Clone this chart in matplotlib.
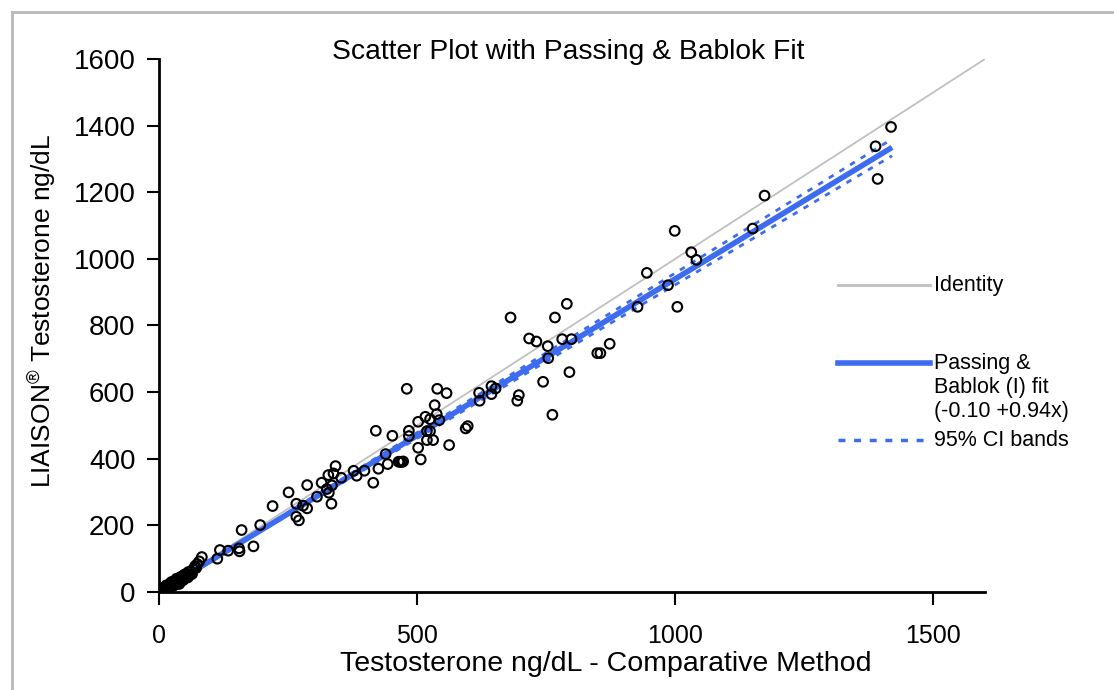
import matplotlib
matplotlib.use("Agg")
import matplotlib.pyplot as plt
from matplotlib.lines import Line2D
import numpy as np

plt.rcParams['font.family'] = ['Liberation Sans', 'DejaVu Sans']

# ---- data ----
comp_x = [
    1418, 1388, 1392, 1173, 1150, 999, 1031, 1041, 945, 986, 927, 1004, 873, 855,
    790, 681, 767, 717, 731, 753, 781, 799, 754, 849, 795, 744, 762,
    620, 621, 644, 652, 644, 697, 694, 480, 539, 557, 534, 502, 516, 525, 538, 543,
    484, 484, 519, 525, 519, 531, 502, 562, 507, 470, 473, 594, 598,
    420, 452, 439, 464, 467, 425, 443, 415, 398, 383, 377, 353, 342, 328, 338, 315,
    335, 325, 329, 306, 334, 287, 251, 220, 266, 279, 287, 266, 271, 196, 160,
    183, 118, 134, 155, 156, 113, 83,
    78, 74, 72, 70, 66, 64, 62, 60, 57, 56, 55, 52, 50, 49, 48, 46, 45, 44, 42, 41,
    40, 38, 37, 36, 35, 33, 32, 31, 30, 28, 27, 26, 25, 23, 22, 21, 20, 18, 17, 16,
    15, 13, 12, 11, 10, 9, 8, 7, 6, 5, 4, 3, 2, 14, 19, 24, 29, 34, 39, 47,
]
liaison_y = [
    1396, 1338, 1240, 1190, 1091, 1084, 1020, 997, 958, 921, 856, 856, 745, 717,
    865, 824, 824, 761, 752, 738, 759, 759, 702, 717, 660, 631, 532,
    598, 574, 618, 611, 594, 591, 574, 610, 610, 597, 561, 511, 526, 519, 534, 516,
    484, 468, 483, 483, 456, 456, 433, 441, 398, 390, 392, 491, 498,
    484, 469, 414, 391, 391, 370, 384, 328, 364, 349, 364, 343, 378, 351, 356, 328,
    320, 309, 298, 286, 265, 321, 299, 258, 265, 259, 251, 226, 215, 201, 186,
    137, 126, 124, 131, 122, 100, 105,
    92, 84, 72, 78, 68, 54, 62, 52, 60, 44, 50, 54, 42, 52, 38, 48, 36, 46, 30, 44,
    40, 30, 40, 28, 38, 26, 34, 24, 33, 20, 30, 18, 28, 16, 26, 14, 22, 12, 20, 10,
    18, 8, 15, 6, 12, 4, 10, 3, 8, 2, 6, 1, 3, 20, 12, 30, 20, 40, 24, 36,
]

identity_x = [0, 1600]
identity_y = [0, 1600]

pb_intercept = -0.10
pb_slope = 0.94
fit_x_range = [0, 1420]
ci_upper = (-0.5, 0.958)   # intercept, slope
ci_lower = (0.3, 0.922)

title = "Scatter Plot with Passing & Bablok Fit"
xlabel = "Testosterone ng/dL - Comparative Method"
ylabel = r"LIAISON$^{\mathregular{®}}$ Testosterone ng/dL"
xticks = [0, 500, 1000, 1500]
yticks = [0, 200, 400, 600, 800, 1000, 1200, 1400, 1600]

blue = '#3d6cf0'
grey = '#c0c0c0'

fig = plt.figure(figsize=(11.14, 6.90), dpi=100)
ax = fig.add_axes([159/1114, 1-592/690, (985-159)/1114, (592-59)/690])

fx = np.array(fit_x_range, dtype=float)
ax.plot(identity_x, identity_y, color=grey, lw=1.3, zorder=1)
ax.plot(fx, pb_intercept + pb_slope*fx, color=blue, lw=4, solid_capstyle='butt', zorder=2)
ax.plot(fx, ci_upper[0] + ci_upper[1]*fx, color=blue, lw=2, ls=(0, (2, 2.5)), zorder=2)
ax.plot(fx, ci_lower[0] + ci_lower[1]*fx, color=blue, lw=2, ls=(0, (2, 2.5)), zorder=2)
ax.scatter(comp_x, liaison_y, s=48, facecolors='none', edgecolors='black', linewidths=1.5, zorder=3)

ax.set_xlim(0, 1600)
ax.set_ylim(0, 1600)
ax.set_xticks(xticks)
ax.set_yticks(yticks)
ax.spines['top'].set_visible(False)
ax.spines['right'].set_visible(False)
for s in ('left', 'bottom'):
    ax.spines[s].set_linewidth(2)
ax.tick_params(axis='both', direction='out', length=9, width=1.5)
ax.tick_params(axis='y', labelsize=20, pad=8)
ax.tick_params(axis='x', labelsize=18, pad=14)

ax.set_xlabel(xlabel, fontsize=20.5)
ax.xaxis.set_label_coords((606-159)/826, -(651-592)/533)
ax.set_ylabel(ylabel, fontsize=19)
ax.yaxis.set_label_coords(-(159-58)/826, (592-311)/533)
fig.text(568/1114, 1-52/690, title, ha='center', va='center', fontsize=20.3)

# legend drawn as lines + text in figure coordinates
def fx_(px): return px/1114
def fy_(py): return 1-py/690
fig.add_artist(Line2D([fx_(838), fx_(930)], [fy_(285), fy_(285)], color=grey, lw=2))
fig.text(fx_(934), fy_(285), "Identity", va='center', fontsize=15.5)
fig.add_artist(Line2D([fx_(838), fx_(930)], [fy_(363), fy_(363)], color=blue, lw=4))
fig.text(fx_(934), fy_(363), "Passing &", va='center', fontsize=15.5)
fig.text(fx_(934), fy_(388), "Bablok (I) fit", va='center', fontsize=15.5)
fig.text(fx_(934), fy_(412), "(-0.10 +0.94x)", va='center', fontsize=15.5)
fig.add_artist(Line2D([fx_(838), fx_(930)], [fy_(440), fy_(440)], color=blue, lw=2.5, ls=(0, (2, 2.5))))
fig.text(fx_(934), fy_(440), "95% CI bands", va='center', fontsize=15.5)

# frame lines of the original screenshot
fig.add_artist(Line2D([fx_(12), fx_(12)], [fy_(12), 0], color='#b8b8b8', lw=2))
fig.add_artist(Line2D([fx_(12), 1], [fy_(12), fy_(12)], color='#b8b8b8', lw=2))

fig.savefig('out.png', dpi=100)
